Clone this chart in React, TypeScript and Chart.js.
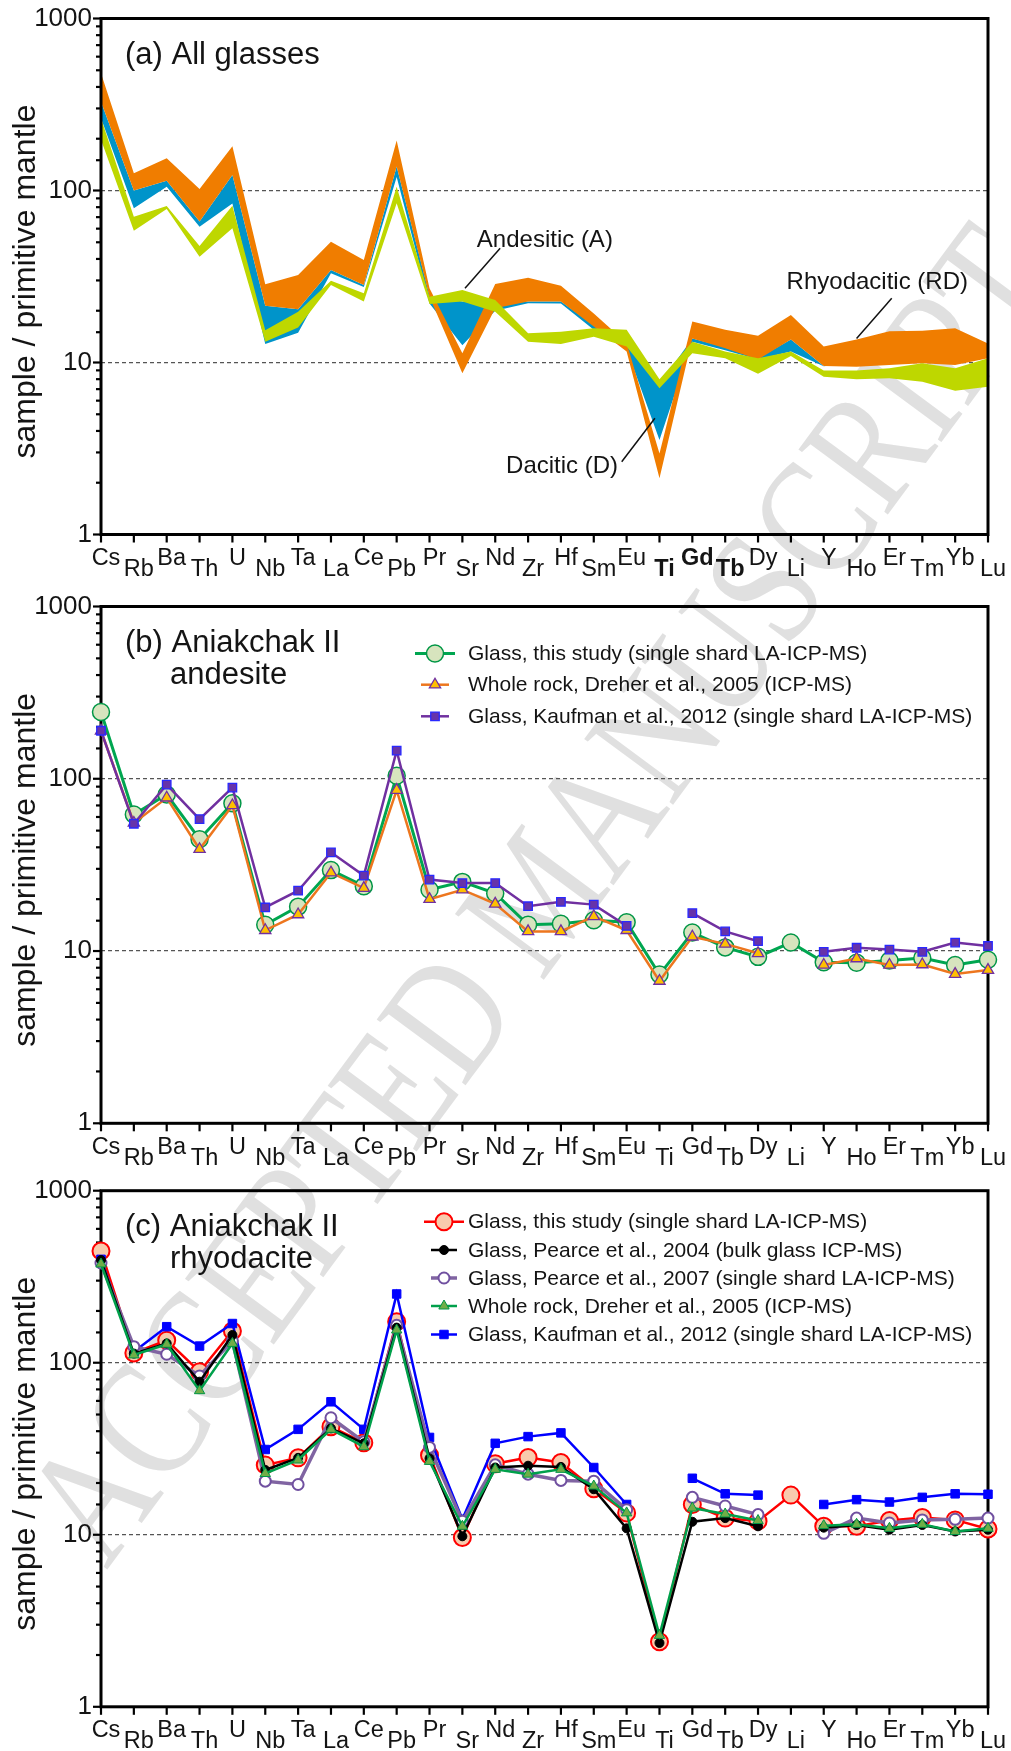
import React, { useEffect, useRef } from 'react';
import { Chart, registerables } from 'chart.js';
import { drawPoint } from 'chart.js/helpers';

Chart.register(...registerables);

const FONT = '"Liberation Sans", Arial, Helvetica, sans-serif';

// ---------- shared axis data ----------
const ELEMENTS = ['Cs', 'Rb', 'Ba', 'Th', 'U', 'Nb', 'Ta', 'La', 'Ce', 'Pb', 'Pr', 'Sr', 'Nd', 'Zr', 'Hf', 'Sm', 'Eu', 'Ti', 'Gd', 'Tb', 'Dy', 'Li', 'Y', 'Ho', 'Er', 'Tm', 'Yb', 'Lu'];
const Y_TICK_LABELS = [1, 10, 100, 1000];
const Y_TITLE = 'sample / primitive mantle';

// ---------- (a) All glasses : envelopes (upper / lower) ----------
const RD_UPPER = [480, 126, 154, 102, 181, 28.5, 32.3, 50.4, 39.4, 195, 27, 11.3, 28.6, 31.1, 27.9, 19.3, 13.0, 2.96, 17.3, 15.5, 14.3, 18.9, 12.4, 13.6, 15.2, 15.3, 15.8, 12.9];
const RD_LOWER = [328, 100, 114, 66, 123, 21.4, 20.4, 34.5, 28.2, 138, 24.1, 8.66, 20.7, 22.6, 22.6, 16.2, 11.6, 2.12, 13.8, 12.1, 10.4, 13.6, 9.55, 9.46, 9.67, 9.89, 9.67, 10.6];
const D_UPPER = [328, 100, 114, 66, 123, 21.4, 20.4, 34.5, 28.2, 138, 24.5, 22.6, 22, 22.6, 22.6, 16.5, 12.5, 7.5, 13.8, 12.3, 10.6, 13.6, 9.55, 10.5, 10.5, 10.5, 10.5, 11.5];
const D_LOWER = [263, 78.8, 105, 61.6, 84, 12.8, 14.9, 33, 27.5, 120, 22, 12.6, 20, 22.1, 22, 15.5, 12, 3.54, 13.2, 11.8, 10.4, 11.6, 9.5, 10, 10, 10, 10, 11];
const A_UPPER = [263, 70.4, 81.3, 47.6, 81.6, 15.4, 19.7, 29.9, 25.3, 105, 24.1, 26.4, 23.1, 14.8, 15.1, 15.8, 15.5, 8.0, 13.2, 11.6, 10.6, 11.6, 8.97, 8.97, 9.25, 9.89, 9.25, 10.6];
const A_LOWER = [197, 58.4, 78, 41.2, 60.3, 13.2, 16.0, 28.2, 22.6, 84.3, 21.9, 22.6, 19.7, 13.2, 12.8, 14.1, 12.4, 7.08, 11.3, 10.6, 8.6, 10.9, 8.27, 7.99, 8.09, 7.74, 6.86, 7.23];

// ---------- (b) Aniakchak II andesite ----------
const B_GLASS_THIS_STUDY = [244, 62, 81, 44.6, 72, 14.2, 18.1, 29.5, 23.8, 104, 22.7, 25.2, 21.6, 14.2, 14.4, 15.1, 14.7, 7.3, 12.8, 10.5, 9.25, 11.2, 8.6, 8.55, 8.8, 9.1, 8.3, 8.9];
const B_DREHER_2005 = [190, 55.4, 77.6, 39, 70, 13.2, 16.3, 28.5, 23.2, 86, 20, 22.7, 18.8, 13.0, 13.0, 15.9, 13.2, 6.7, 12.1, 11.0, 9.7, null, 8.3, 9.05, 8.3, 8.35, 7.35, 7.75];
const B_KAUFMAN_2012 = [190, 54.8, 92.5, 58.3, 88.9, 17.9, 22.4, 37.4, 27.4, 145.5, 26.0, 24.8, 24.8, 18.2, 19.3, 18.6, 14.0, null, 16.6, 13.0, 11.4, null, 9.9, 10.45, 10.2, 9.9, 11.2, 10.7];

// ---------- (c) Aniakchak II rhyodacite ----------
const C_GLASS_THIS_STUDY = [446, 114, 135, 88.6, 153, 25.4, 28.0, 42.5, 34.3, 173, 29, 9.65, 25.9, 28.1, 26.3, 18.5, 13.4, 2.39, 15.0, 12.5, 12.0, 17.0, 11.2, 11.2, 12.1, 12.6, 12.2, 10.8];
const C_PEARCE_2004 = [395, 113, 129.5, 77.6, 145, 23.8, 28, 41.5, 34, 160, 27.8, 9.8, 24.6, 25.2, 24.8, 18.4, 10.9, 2.35, 11.9, 12.5, 11.2, null, 11.0, 11.4, 10.7, 11.4, 10.45, 10.7];
const C_PEARCE_2007 = [380, 124, 112, 83.7, 134, 20.5, 19.6, 47.9, 34.7, 165, 32.2, 12, 25.5, 22.5, 20.7, 20.5, 14.0, null, 16.5, 14.7, 13.1, null, 10.2, 12.5, 11.7, 12.2, 12.3, 12.5];
const C_DREHER_2005 = [375, 111, 128, 68.8, 129.5, 22.7, 27.2, 41, 32.5, 155, 26.7, 11.2, 24.0, 22.5, 24.0, 19.2, 13.4, 2.6, 14.3, 13.2, 12.1, null, 11.3, 11.5, 10.9, 11.5, 10.45, 10.9];
const C_KAUFMAN_2012 = [399, 116, 162, 125, 169, 31.3, 41, 59.3, 41, 251, 36.8, 12.3, 34.0, 37.2, 39.1, 24.6, 15.0, null, 21.3, 17.3, 17.0, null, 15.0, 16.0, 15.5, 16.5, 17.3, 17.2];

// ---------- helpers ----------
const isPow10 = (v: number) => Math.abs(Math.log10(v) - Math.round(Math.log10(v))) < 1e-9;

type Note = { text: string; tx: number; ty: number; from: [number, number]; to: [number, number] };
type LegendRow = { ds: number; dy: number; x1: number; x2: number };
type Spec = {
  key: string;
  top: number;
  height: number;
  areaTop: number;
  areaBottom: number;
  titleLines: string[];
  bold: string[];
  frameOnTop: boolean;
  datasets: any[];
  legend?: { mx: number; tx: number; rows: LegendRow[] };
  notes?: Note[];
};

function band(name: string, upper: number[], lower: number[], color: string) {
  const common = {
    borderColor: 'rgba(0,0,0,0)',
    borderWidth: 0,
    backgroundColor: color,
    pointRadius: 0,
    tension: 0,
  };
  return [
    { ...common, label: name + ' lower', data: lower, fill: false },
    { ...common, label: name + ' upper', data: upper, fill: '-1' },
  ];
}

function drawFrame(chart: any) {
  const { ctx, chartArea: a, scales } = chart;
  ctx.save();
  ctx.setLineDash([]);
  ctx.strokeStyle = '#000';
  ctx.lineWidth = 3;
  ctx.strokeRect(a.left, a.top, a.right - a.left, a.bottom - a.top);
  ctx.lineWidth = 2.2;
  const ys = scales.y;
  ys.ticks.forEach((t: any) => {
    const py = ys.getPixelForValue(t.value);
    const len = isPow10(t.value) ? 8 : 5;
    ctx.beginPath();
    ctx.moveTo(a.left - len, py);
    ctx.lineTo(a.left, py);
    ctx.stroke();
  });
  const xs = scales.x;
  ELEMENTS.forEach((_, i) => {
    const px = xs.getPixelForValue(i);
    ctx.beginPath();
    ctx.moveTo(px, a.bottom);
    ctx.lineTo(px, a.bottom + 8);
    ctx.stroke();
  });
  ctx.restore();
}

function drawDecor(chart: any, spec: Spec) {
  const { ctx, chartArea: a, scales } = chart;
  const xs = scales.x;
  const ys = scales.y;
  ctx.save();
  ctx.fillStyle = '#141414';

  // x tick labels (alternating rows)
  ctx.textAlign = 'center';
  ctx.textBaseline = 'alphabetic';
  ELEMENTS.forEach((el, i) => {
    const bold = spec.bold.includes(el);
    ctx.font = `${bold ? 'bold ' : ''}23.5px ${FONT}`;
    const px = xs.getPixelForValue(i) + 5;
    const py = a.bottom + (i % 2 === 0 ? 30.5 : 41.5);
    ctx.fillText(el, px, py);
  });

  // y axis title
  ctx.save();
  ctx.translate(26, (a.top + a.bottom) / 2 + 5);
  ctx.rotate(-Math.PI / 2);
  ctx.font = `32px ${FONT}`;
  ctx.textAlign = 'center';
  ctx.textBaseline = 'middle';
  ctx.fillText(Y_TITLE, 0, 0);
  ctx.restore();

  // panel title
  ctx.font = `31px ${FONT}`;
  ctx.textAlign = 'left';
  ctx.textBaseline = 'alphabetic';
  spec.titleLines.forEach((line, i) => {
    ctx.fillText(line, i === 0 ? 125 : 170, a.top + 45 + i * 32);
  });

  // annotations
  if (spec.notes) {
    ctx.font = `24px ${FONT}`;
    ctx.strokeStyle = '#111';
    ctx.lineWidth = 1.5;
    spec.notes.forEach((n) => {
      ctx.fillText(n.text, xs.getPixelForValue(n.tx), ys.getPixelForValue(n.ty));
      ctx.beginPath();
      ctx.moveTo(xs.getPixelForValue(n.from[0]), ys.getPixelForValue(n.from[1]));
      ctx.lineTo(xs.getPixelForValue(n.to[0]), ys.getPixelForValue(n.to[1]));
      ctx.stroke();
    });
  }

  // legend
  if (spec.legend) {
    const lg = spec.legend;
    lg.rows.forEach((r) => {
      const ds = chart.data.datasets[r.ds];
      const y = a.top + r.dy;
      ctx.setLineDash([]);
      ctx.strokeStyle = ds.borderColor;
      ctx.lineWidth = ds.borderWidth;
      ctx.beginPath();
      ctx.moveTo(r.x1, y);
      ctx.lineTo(r.x2, y);
      ctx.stroke();
      ctx.fillStyle = ds.pointBackgroundColor;
      ctx.strokeStyle = ds.pointBorderColor;
      ctx.lineWidth = ds.pointBorderWidth;
      drawPoint(ctx, { pointStyle: ds.pointStyle, radius: ds.pointRadius, rotation: 0, borderWidth: ds.pointBorderWidth } as any, lg.mx, y);
      ctx.fillStyle = '#141414';
      ctx.font = `21px ${FONT}`;
      ctx.textAlign = 'left';
      ctx.textBaseline = 'middle';
      ctx.fillText(ds.label, lg.tx, y + 1);
    });
  }
  ctx.restore();
}

function buildConfig(spec: Spec): any {
  const decor = {
    id: 'decor' + spec.key,
    beforeDatasetsDraw(chart: any) {
      if (!spec.frameOnTop) drawFrame(chart);
    },
    afterDatasetsDraw(chart: any) {
      if (spec.frameOnTop) drawFrame(chart);
    },
    afterDraw(chart: any) {
      drawDecor(chart, spec);
    },
  };
  return {
    type: 'line',
    data: { labels: ELEMENTS, datasets: spec.datasets },
    plugins: [decor],
    options: {
      responsive: false,
      animation: false,
      events: [],
      layout: { padding: { left: 0, right: 23, top: spec.areaTop, bottom: spec.height - spec.areaBottom } },
      plugins: { legend: { display: false }, tooltip: { enabled: false } },
      scales: {
        x: { type: 'category', display: false, offset: false },
        y: {
          type: 'logarithmic',
          min: 1,
          max: 1000,
          afterFit: (s: any) => {
            s.width = 101;
            s.paddingTop = 0;
            s.paddingBottom = 0;
            s.paddingLeft = 0;
            s.paddingRight = 0;
          },
          ticks: {
            autoSkip: false,
            color: '#141414',
            padding: 9,
            font: { family: FONT, size: 26 },
            callback: (v: any) => (Y_TICK_LABELS.includes(Number(v)) ? String(v) : ''),
          },
          grid: {
            drawTicks: false,
            lineWidth: 1.2,
            color: (c: any) => (c.tick && (c.tick.value === 10 || c.tick.value === 100) ? '#555' : 'rgba(0,0,0,0)'),
          },
          border: { display: false, dash: [4, 3] },
        },
      },
    },
  };
}

// ---------- panel definitions ----------
const lineDs = (label: string, data: (number | null)[], o: any) => ({
  label,
  data,
  clip: false,
  spanGaps: false,
  tension: 0,
  fill: false,
  ...o,
});

const SPEC_A: Spec = {
  key: 'a',
  top: 0,
  height: 583,
  areaTop: 18.5,
  areaBottom: 534.5,
  titleLines: ['(a) All glasses'],
  bold: ['Ti', 'Gd', 'Tb'],
  frameOnTop: true,
  datasets: [
    ...band('Andesitic (A)', A_UPPER, A_LOWER, 'rgb(190,215,0)'),
    ...band('Rhyodacitic (RD)', RD_UPPER, RD_LOWER, 'rgb(240,125,0)'),
    ...band('Dacitic (D)', D_UPPER, D_LOWER, 'rgb(0,148,202)'),
  ],
  notes: [
    { text: 'Andesitic (A)', tx: 11.44, ty: 46.7, from: [12.15, 46.1], to: [11.08, 27.0] },
    { text: 'Dacitic (D)', tx: 12.33, ty: 2.27, from: [15.85, 2.65], to: [16.86, 4.74] },
    { text: 'Rhyodacitic (RD)', tx: 20.87, ty: 26.6, from: [24.07, 23.6], to: [23.0, 13.8] },
  ],
};

const SPEC_B: Spec = {
  key: 'b',
  top: 583,
  height: 590,
  areaTop: 23.5,
  areaBottom: 540.3,
  titleLines: ['(b) Aniakchak II', 'andesite'],
  bold: [],
  frameOnTop: false,
  datasets: [
    lineDs('Glass, Kaufman et al., 2012 (single shard LA-ICP-MS)', B_KAUFMAN_2012, {
      borderColor: 'rgb(112,48,160)', borderWidth: 2.5, pointStyle: 'rect', pointRadius: 6,
      pointBackgroundColor: 'rgb(102,51,170)', pointBorderColor: 'rgb(40,40,255)', pointBorderWidth: 1.3,
    }),
    lineDs('Whole rock, Dreher et al., 2005 (ICP-MS)', B_DREHER_2005, {
      borderColor: 'rgb(237,118,30)', borderWidth: 2.5, pointStyle: 'triangle', pointRadius: 6.5,
      pointBackgroundColor: '#FFC000', pointBorderColor: '#7030A0', pointBorderWidth: 1.3,
    }),
    lineDs('Glass, this study (single shard LA-ICP-MS)', B_GLASS_THIS_STUDY, {
      borderColor: 'rgb(0,166,80)', borderWidth: 3, pointStyle: 'circle', pointRadius: 8.5,
      pointBackgroundColor: 'rgb(215,228,190)', pointBorderColor: 'rgb(0,150,70)', pointBorderWidth: 1.5,
    }),
  ],
  legend: {
    mx: 435,
    tx: 468,
    rows: [
      { ds: 2, dy: 47, x1: 415, x2: 455 },
      { ds: 1, dy: 78.2, x1: 421, x2: 449 },
      { ds: 0, dy: 109.8, x1: 421, x2: 449 },
    ],
  },
};

const SPEC_C: Spec = {
  key: 'c',
  top: 1173,
  height: 578,
  areaTop: 17.7,
  areaBottom: 533.8,
  titleLines: ['(c) Aniakchak II', 'rhyodacite'],
  bold: [],
  frameOnTop: false,
  datasets: [
    lineDs('Whole rock, Dreher et al., 2005 (ICP-MS)', C_DREHER_2005, {
      borderColor: 'rgb(0,160,75)', borderWidth: 2.5, pointStyle: 'triangle', pointRadius: 6,
      pointBackgroundColor: 'rgb(112,173,71)', pointBorderColor: 'rgb(0,150,70)', pointBorderWidth: 1,
    }),
    lineDs('Glass, Pearce et al., 2004 (bulk glass ICP-MS)', C_PEARCE_2004, {
      borderColor: '#000', borderWidth: 2.5, pointStyle: 'circle', pointRadius: 4.5,
      pointBackgroundColor: '#000', pointBorderColor: '#000', pointBorderWidth: 1,
    }),
    lineDs('Glass, Pearce et al., 2007 (single shard LA-ICP-MS)', C_PEARCE_2007, {
      borderColor: 'rgb(128,100,162)', borderWidth: 3.5, pointStyle: 'circle', pointRadius: 5.5,
      pointBackgroundColor: '#fff', pointBorderColor: 'rgb(112,80,160)', pointBorderWidth: 2,
    }),
    lineDs('Glass, Kaufman et al., 2012 (single shard LA-ICP-MS)', C_KAUFMAN_2012, {
      borderColor: '#0000FF', borderWidth: 2.5, pointStyle: 'rect', pointRadius: 6,
      pointBackgroundColor: '#0000FF', pointBorderColor: '#0000FF', pointBorderWidth: 1,
    }),
    lineDs('Glass, this study (single shard LA-ICP-MS)', C_GLASS_THIS_STUDY, {
      borderColor: '#FF0000', borderWidth: 2.5, pointStyle: 'circle', pointRadius: 8.5,
      pointBackgroundColor: 'rgb(248,203,173)', pointBorderColor: '#FF0000', pointBorderWidth: 2,
    }),
  ],
  legend: {
    mx: 444,
    tx: 468,
    rows: [
      { ds: 4, dy: 31, x1: 424, x2: 464 },
      { ds: 1, dy: 59.3, x1: 431, x2: 457 },
      { ds: 2, dy: 87.3, x1: 431, x2: 457 },
      { ds: 0, dy: 115.3, x1: 431, x2: 457 },
      { ds: 3, dy: 143.8, x1: 431, x2: 457 },
    ],
  },
};

function Panel({ spec }: { spec: Spec }) {
  const ref = useRef<HTMLCanvasElement | null>(null);
  useEffect(() => {
    if (!ref.current) return;
    const chart = new Chart(ref.current, buildConfig(spec));
    return () => chart.destroy();
  }, [spec]);
  return (
    <canvas
      ref={ref}
      width={1011}
      height={spec.height}
      style={{ position: 'absolute', left: 0, top: spec.top, width: 1011, height: spec.height, zIndex: 1 }}
    />
  );
}

export default function App() {
  return (
    <div style={{ position: 'absolute', left: 0, top: 0, width: 1011, height: 1751, overflow: 'hidden', background: '#fff' }}>
      <div
        style={{
          position: 'absolute',
          left: 537,
          top: 893,
          transform: 'translate(-50%, -50%) rotate(-53.5deg) scale(1, 1.25)',
          fontFamily: '"Liberation Serif", "DejaVu Serif", serif',
          fontSize: 135,
          lineHeight: 1,
          color: '#e0e0e0',
          whiteSpace: 'nowrap',
          zIndex: 0,
        }}
      >
        ACCEPTED MANUSCRIPT
      </div>
      <Panel spec={SPEC_A} />
      <Panel spec={SPEC_B} />
      <Panel spec={SPEC_C} />
    </div>
  );
}
